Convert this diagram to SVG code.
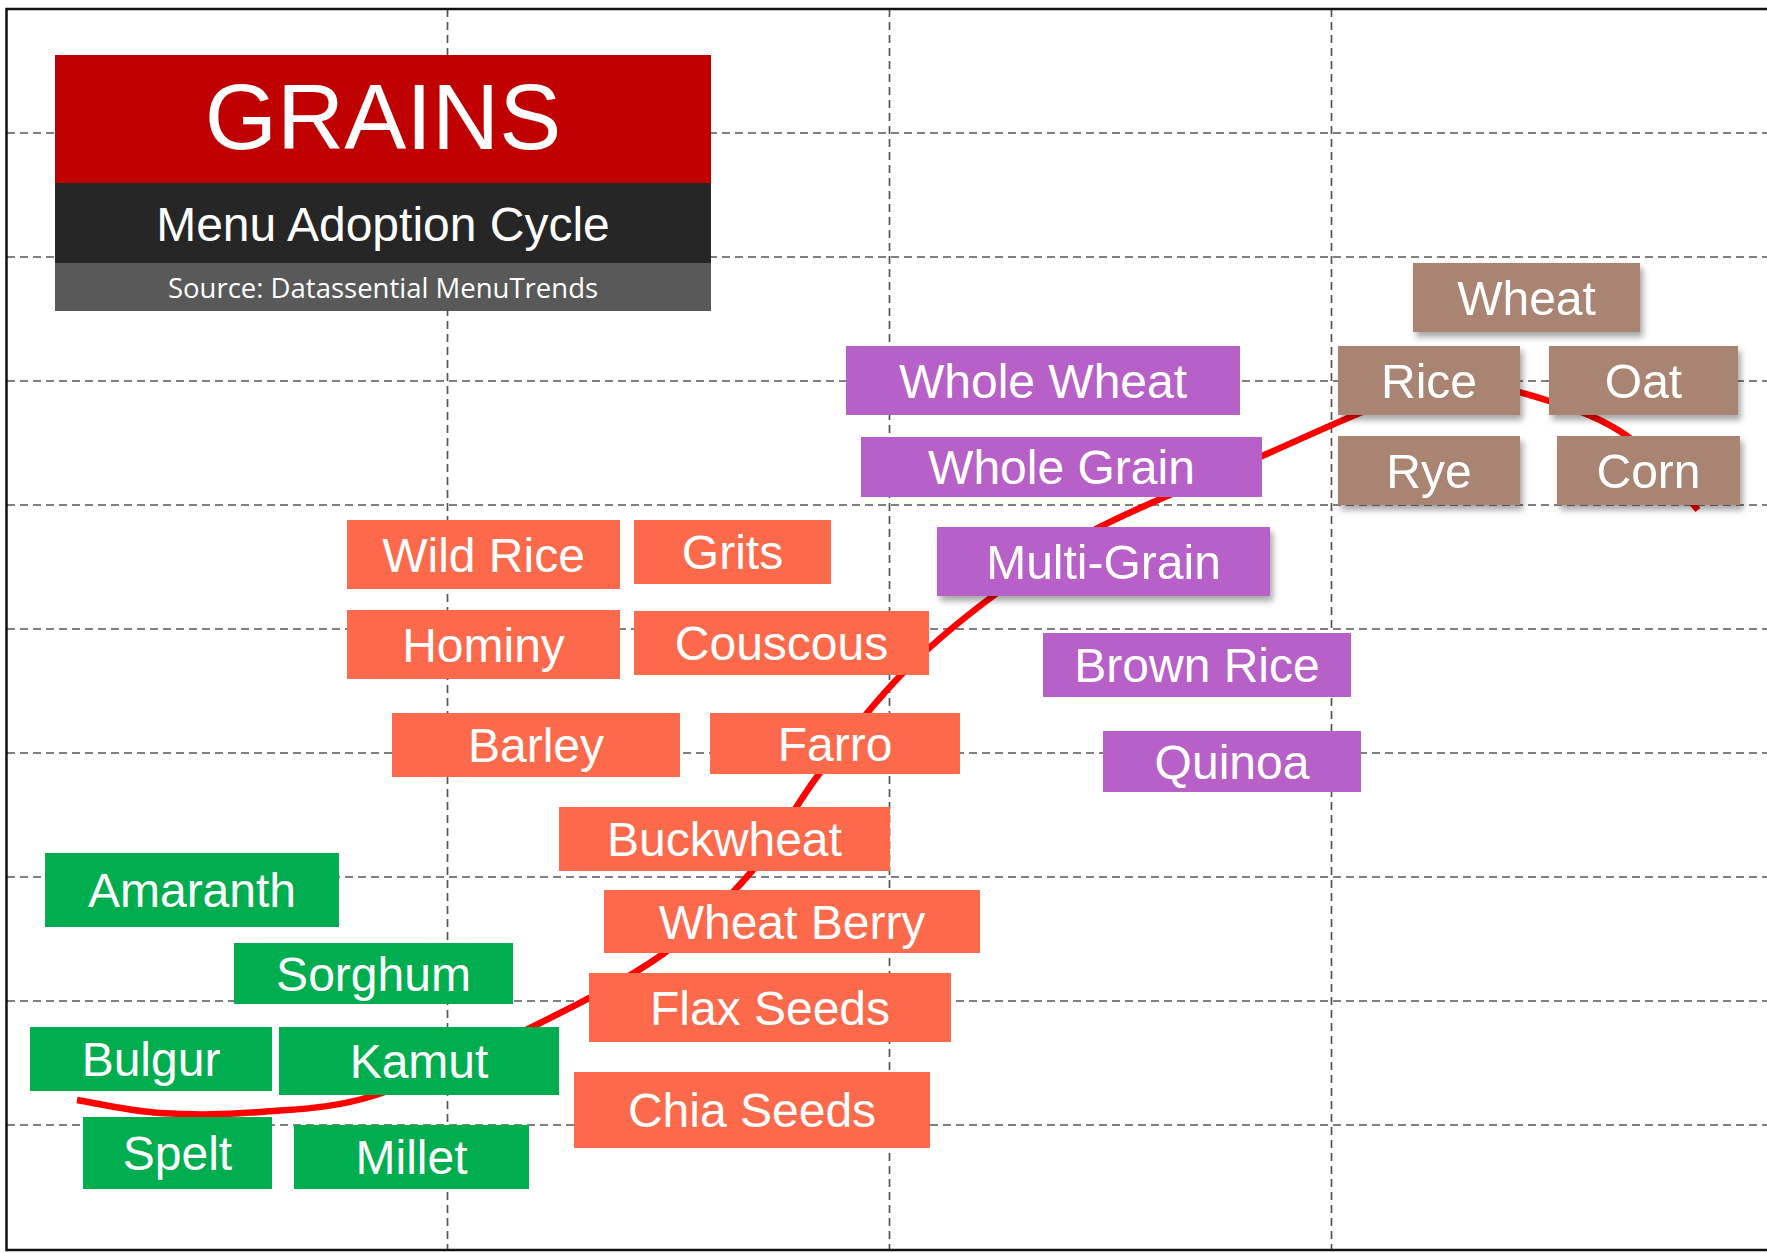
<svg xmlns="http://www.w3.org/2000/svg" width="1767" height="1253" viewBox="0 0 1767 1253">
<defs>
<filter id="sh" x="-10%" y="-20%" width="125%" height="150%">
<feDropShadow dx="3" dy="5" stdDeviation="3" flood-color="#000" flood-opacity="0.35"/>
</filter>
</defs>
<style>
.grid{stroke:#555;stroke-width:1.7;stroke-dasharray:8 5;fill:none}
.lbl{font-family:"Liberation Sans",Arial,sans-serif;font-size:48px;fill:#fff;text-anchor:middle}
.br{fill:#A98472}
.pu{fill:#B760C8}
.or{fill:#FD6A4B}
.gr{fill:#00AE50}
</style>
<rect x="0" y="0" width="1767" height="1253" fill="#fff"/>
<g id="grid">
<path class="grid" d="M7 133H1767M7 257H1767M7 381H1767M7 505H1767M7 629H1767M7 753H1767M7 877H1767M7 1001H1767M7 1125H1767"/>
<path class="grid" d="M447.5 9V1250M889.5 9V1250M1331.5 9V1250"/>
</g>
<rect id="frame" x="6.5" y="9" width="1780" height="1241" fill="none" stroke="#111" stroke-width="2.5"/>
<g id="connectors">
<path d="M77 1100C90.8 1102.2 129.5 1111 160 1113C190.5 1115 224 1115 260 1112C296 1109 330.7 1109.2 376 1095C421.3 1080.8 484.2 1050.5 532 1027C579.8 1003.5 626.3 980 663 954C699.7 928 726 901 752 871C778 841 794.2 806.7 819 774C843.8 741.3 872 704.7 901 675C930 645.3 959.8 620.7 993 596C1026.2 571.3 1055.2 550.3 1100 527C1144.8 503.7 1215.3 476.3 1262 456C1308.7 435.7 1347 417.2 1380 405C1413 392.8 1431.8 383.7 1460 383C1488.2 382.3 1521.2 392.2 1549 401C1576.8 409.8 1602.3 418.3 1627 436C1651.7 453.7 1685.3 495.2 1698 510" fill="none" stroke="#FF0000" stroke-width="6.5"/>
</g>
<g id="title">
<rect x="55" y="55" width="656" height="128" fill="#C00000"/>
<rect x="55" y="183" width="656" height="80" fill="#262626"/>
<rect x="55" y="263" width="656" height="48" fill="#595959"/>
<text x="383" y="149" font-family="'Liberation Sans', Arial, sans-serif" font-size="93" fill="#fff" text-anchor="middle">GRAINS</text>
<text x="383" y="241" font-family="'Liberation Sans', Arial, sans-serif" font-size="48" fill="#fff" text-anchor="middle">Menu Adoption Cycle</text>
<text x="383" y="298" font-family="'Open Sans', 'Liberation Sans', sans-serif" font-size="27.5" fill="#fff" text-anchor="middle">Source: Datassential MenuTrends</text>
</g>
<g id="n-wheat" filter="url(#sh)"><rect class="br" x="1413" y="263" width="227" height="69"/><text class="lbl" x="1526.5" y="314.5">Wheat</text></g>
<g id="n-rice" filter="url(#sh)"><rect class="br" x="1338" y="346" width="182" height="69"/><text class="lbl" x="1429" y="397.5">Rice</text></g>
<g id="n-oat" filter="url(#sh)"><rect class="br" x="1549" y="346" width="189" height="69"/><text class="lbl" x="1643.5" y="397.5">Oat</text></g>
<g id="n-rye" filter="url(#sh)"><rect class="br" x="1338" y="436" width="182" height="69"/><text class="lbl" x="1429" y="487.5">Rye</text></g>
<g id="n-corn" filter="url(#sh)"><rect class="br" x="1557" y="436" width="183" height="69"/><text class="lbl" x="1648.5" y="487.5">Corn</text></g>
<g id="n-wholewheat"><rect class="pu" x="846" y="346" width="394" height="69"/><text class="lbl" x="1043" y="397.5">Whole Wheat</text></g>
<g id="n-wholegrain"><rect class="pu" x="861" y="437" width="401" height="60"/><text class="lbl" x="1061.5" y="484">Whole Grain</text></g>
<g id="n-multigrain" filter="url(#sh)"><rect class="pu" x="937" y="527" width="333" height="69"/><text class="lbl" x="1103.5" y="578.5">Multi-Grain</text></g>
<g id="n-brownrice"><rect class="pu" x="1043" y="633" width="308" height="64"/><text class="lbl" x="1197" y="682">Brown Rice</text></g>
<g id="n-quinoa"><rect class="pu" x="1103" y="731" width="258" height="61"/><text class="lbl" x="1232" y="778.5">Quinoa</text></g>
<g id="n-wildrice"><rect class="or" x="347" y="520" width="273" height="69"/><text class="lbl" x="483.5" y="571.5">Wild Rice</text></g>
<g id="n-grits"><rect class="or" x="634" y="520" width="197" height="64"/><text class="lbl" x="732.5" y="569">Grits</text></g>
<g id="n-hominy"><rect class="or" x="347" y="610" width="273" height="69"/><text class="lbl" x="483.5" y="661.5">Hominy</text></g>
<g id="n-couscous"><rect class="or" x="634" y="611" width="295" height="64"/><text class="lbl" x="781.5" y="660">Couscous</text></g>
<g id="n-barley"><rect class="or" x="392" y="713" width="288" height="64"/><text class="lbl" x="536" y="762">Barley</text></g>
<g id="n-farro"><rect class="or" x="710" y="713" width="250" height="61"/><text class="lbl" x="835" y="760.5">Farro</text></g>
<g id="n-buckwheat"><rect class="or" x="559" y="807" width="331" height="64"/><text class="lbl" x="724.5" y="856">Buckwheat</text></g>
<g id="n-wheatberry"><rect class="or" x="604" y="890" width="376" height="63"/><text class="lbl" x="792" y="938.5">Wheat Berry</text></g>
<g id="n-flaxseeds"><rect class="or" x="589" y="973" width="362" height="69"/><text class="lbl" x="770" y="1024.5">Flax Seeds</text></g>
<g id="n-chiaseeds"><rect class="or" x="574" y="1072" width="356" height="76"/><text class="lbl" x="752" y="1127">Chia Seeds</text></g>
<g id="n-amaranth"><rect class="gr" x="45" y="853" width="294" height="74"/><text class="lbl" x="192" y="907">Amaranth</text></g>
<g id="n-sorghum"><rect class="gr" x="234" y="943" width="279" height="61"/><text class="lbl" x="373.5" y="990.5">Sorghum</text></g>
<g id="n-bulgur"><rect class="gr" x="30" y="1027" width="242" height="64"/><text class="lbl" x="151" y="1076">Bulgur</text></g>
<g id="n-kamut"><rect class="gr" x="279" y="1027" width="280" height="68"/><text class="lbl" x="419" y="1078">Kamut</text></g>
<g id="n-spelt"><rect class="gr" x="83" y="1117" width="189" height="72"/><text class="lbl" x="177.5" y="1170">Spelt</text></g>
<g id="n-millet"><rect class="gr" x="294" y="1125" width="235" height="64"/><text class="lbl" x="411.5" y="1174">Millet</text></g>
</svg>
